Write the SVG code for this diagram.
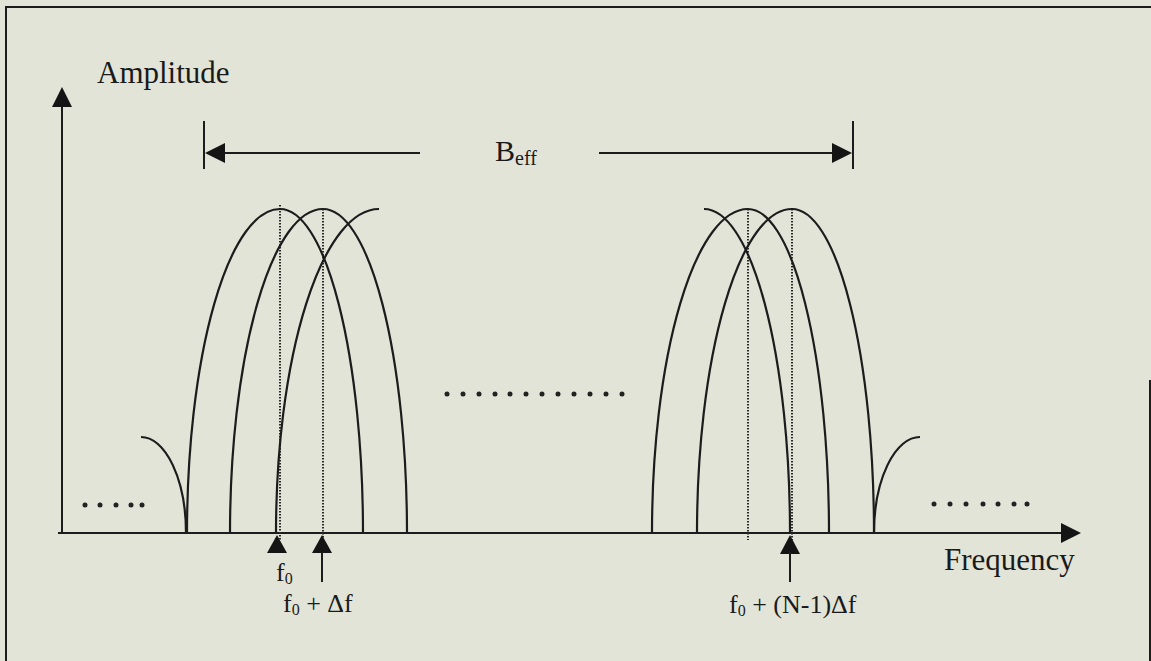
<svg xmlns="http://www.w3.org/2000/svg" width="1151" height="661" viewBox="0 0 1151 661">
<style>
.ln{stroke:#1c1c1c;stroke-width:2;fill:none}
.cv{stroke:#1c1c1c;stroke-width:2.2;fill:none}
.dt{stroke:#2a2a2a;stroke-width:2;stroke-dasharray:1.6 1.4;fill:none}
.ah{fill:#141414;stroke:none}
.dot{fill:#222}
.t{font-family:"Liberation Serif","Times New Roman",serif;fill:#1a1a1a}
</style>
<rect x="0" y="0" width="1151" height="661" fill="#e2e4d8"/>
<g id="frame">
<path class="ln" d="M6,661 V7 H1151"/>
<path class="ln" d="M1150,380 V661"/>
</g>
<g id="axes">
<path class="ln" d="M62,533 V105"/>
<polygon class="ah" points="62,87 52,107 72,107"/>
<path class="ln" d="M58,533 H1063"/>
<polygon class="ah" points="1081,533 1061,523 1061,543"/>
<text class="t" x="97" y="83" font-size="31">Amplitude</text>
<text class="t" x="944" y="570" font-size="31">Frequency</text>
</g>
<g id="bandwidth">
<path class="ln" d="M204,121 V169"/>
<path class="ln" d="M853,121 V169"/>
<path class="ln" d="M222,153 H420"/>
<path class="ln" d="M599,153 H835"/>
<polygon class="ah" points="205,153 225,143 225,163"/>
<polygon class="ah" points="852,153 832,143 832,163"/>
<text class="t" x="495" y="161" font-size="30">B<tspan font-size="20" dy="4">eff</tspan></text>
</g>
<g id="dotted-markers">
<path class="dt" d="M280,205 V540"/>
<path class="dt" d="M323,209 V540"/>
<path class="dt" d="M748,209 V540"/>
<path class="dt" d="M792,209 V540"/>
</g>
<g id="left-lobes">
<path class="cv" d="M141,437 A45,96 0 0 1 186,533"/>
<path class="cv" d="M187,533 A93,324 0 0 1 280,209 A83,324 0 0 1 363,533"/>
<path class="cv" d="M230,533 A93,324 0 0 1 323,209 A84,324 0 0 1 407,533"/>
<path class="cv" d="M276,533 A103,324 0 0 1 379,209"/>
</g>
<g id="right-lobes">
<path class="cv" d="M704,209 A86,324 0 0 1 790,533"/>
<path class="cv" d="M652,533 A96,324 0 0 1 748,209 A81,324 0 0 1 829,533"/>
<path class="cv" d="M697,533 A95,324 0 0 1 792,209 A82,324 0 0 1 874,533"/>
<path class="cv" d="M874,533 A46,96 0 0 1 920,437"/>
</g>
<g id="ellipses">
<circle class="dot" cx="85" cy="505" r="2.5"/>
<circle class="dot" cx="100" cy="505" r="2.5"/>
<circle class="dot" cx="116" cy="505" r="2.5"/>
<circle class="dot" cx="131" cy="505" r="2.5"/>
<circle class="dot" cx="142" cy="505" r="2.5"/>
<circle class="dot" cx="447" cy="394" r="2.5"/>
<circle class="dot" cx="463" cy="394" r="2.5"/>
<circle class="dot" cx="479" cy="394" r="2.5"/>
<circle class="dot" cx="495" cy="394" r="2.5"/>
<circle class="dot" cx="510" cy="394" r="2.5"/>
<circle class="dot" cx="526" cy="394" r="2.5"/>
<circle class="dot" cx="542" cy="394" r="2.5"/>
<circle class="dot" cx="558" cy="394" r="2.5"/>
<circle class="dot" cx="574" cy="394" r="2.5"/>
<circle class="dot" cx="590" cy="394" r="2.5"/>
<circle class="dot" cx="606" cy="394" r="2.5"/>
<circle class="dot" cx="622" cy="394" r="2.5"/>
<circle class="dot" cx="934" cy="504" r="2.5"/>
<circle class="dot" cx="950" cy="504" r="2.5"/>
<circle class="dot" cx="966" cy="504" r="2.5"/>
<circle class="dot" cx="983" cy="504" r="2.5"/>
<circle class="dot" cx="998" cy="504" r="2.5"/>
<circle class="dot" cx="1014" cy="504" r="2.5"/>
<circle class="dot" cx="1027" cy="504" r="2.5"/>
</g>
<g id="marker-f0">
<polygon class="ah" points="277,535 267,553 287,553"/>
<text class="t" x="276" y="581" font-size="26">f<tspan font-size="16" dy="3">0</tspan></text>
</g>
<g id="marker-f1">
<polygon class="ah" points="322,535 312,553 332,553"/>
<path class="ln" d="M322,552 V582"/>
<text class="t" x="283" y="612" font-size="26">f<tspan font-size="16" dy="3">0</tspan><tspan dy="-3"> + Δf</tspan></text>
</g>
<g id="marker-fN">
<polygon class="ah" points="790,535 780,554 800,554"/>
<path class="ln" d="M790,552 V582"/>
<text class="t" x="729" y="613" font-size="26">f<tspan font-size="16" dy="3">0</tspan><tspan dy="-3"> + (N-1)Δf</tspan></text>
</g>
</svg>
